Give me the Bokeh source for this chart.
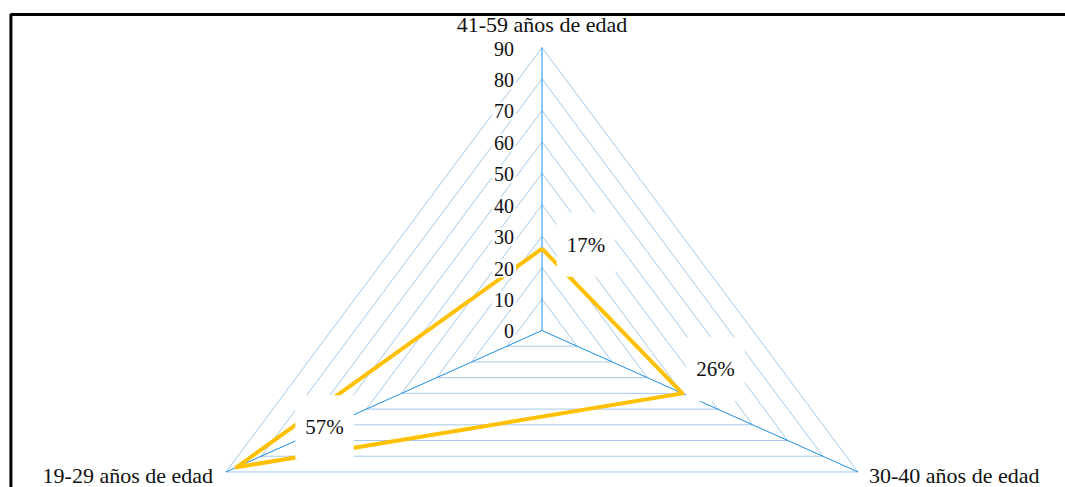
import numpy as np
from bokeh.plotting import figure
from bokeh.models import Range1d, Label, BoxAnnotation
from bokeh.embed import file_html
from bokeh.resources import INLINE

# ---- data ----
categories = ["41-59 años de edad", "30-40 años de edad", "19-29 años de edad"]
values = [26, 40, 87]
pct_labels = ["17%", "26%", "57%"]
ticks = [0, 10, 20, 30, 40, 50, 60, 70, 80, 90]
r_max = 90

# ---- styling / layout ----
FONT = "'Liberation Serif', 'Times New Roman', serif"
GRID_COLOR = "#A4C9EA"
SPOKE_COLOR = "#1A8FE3"
LINE_COLOR = "#FFC000"
angles = np.deg2rad([90.0, -30.0, 210.0])

p = figure(width=1065, height=487, output_backend="svg", toolbar_location=None,
           x_range=Range1d(-133.57, 129.13), y_range=Range1d(-49.94, 104.96),
           x_axis_location=None, y_axis_location=None,
           min_border=0, outline_line_color=None)
p.grid.visible = False
p.background_fill_color = "white"
p.border_fill_color = "white"

# chart frame (top and left edges visible)
p.add_layout(BoxAnnotation(left=-131.0, top=100.5, right=300, bottom=-300,
                           fill_alpha=0, line_color="black", line_alpha=1.0,
                           line_width=3))

ca, sa = np.cos(angles), np.sin(angles)

# triangular gridlines
gxs, gys = [], []
for lev in ticks[1:]:
    gxs.append(list(np.append(lev * ca, lev * ca[0])))
    gys.append(list(np.append(lev * sa, lev * sa[0])))
p.multi_line(gxs, gys, line_color=GRID_COLOR, line_width=1)

# spokes
p.segment(x0=[0, 0, 0], y0=[0, 0, 0], x1=list(r_max * ca), y1=list(r_max * sa),
          line_color=SPOKE_COLOR, line_width=1)

# data polygon
vals = np.array(values, dtype=float)
px = vals * ca
py = vals * sa
p.line(list(np.append(px, px[0])), list(np.append(py, py[0])),
       line_color=LINE_COLOR, line_width=4, line_join="round")

# tick labels
for t in ticks:
    p.add_layout(Label(x=0, y=t, text=str(t), x_offset=-26, y_offset=-1,
                       text_align="right", text_baseline="middle",
                       text_font=FONT, text_font_size="20px", text_color="#111111",
                       background_fill_color="white", padding=2))

# data labels
label_offsets = [(44, 4), (33, 24), (88, 40)]
for i, txt in enumerate(pct_labels):
    dx, dy = label_offsets[i]
    p.add_layout(Label(x=px[i], y=py[i], text=txt, x_offset=dx, y_offset=dy,
                       text_align="center", text_baseline="middle",
                       text_font=FONT, text_font_size="21px", text_color="#111111",
                       background_fill_color="white", padding=(10, 20)))

# category labels
cat_style = [(0, 23, "center"), (11, -4, "left"), (-13, -4, "right")]
for i, cat in enumerate(categories):
    dx, dy, al = cat_style[i]
    p.add_layout(Label(x=r_max * ca[i], y=r_max * sa[i], text=cat,
                       x_offset=dx, y_offset=dy, text_align=al,
                       text_baseline="alphabetic",
                       text_font=FONT, text_font_size="22px", text_color="#111111"))

open("out.html", "w").write(file_html(p, INLINE))
